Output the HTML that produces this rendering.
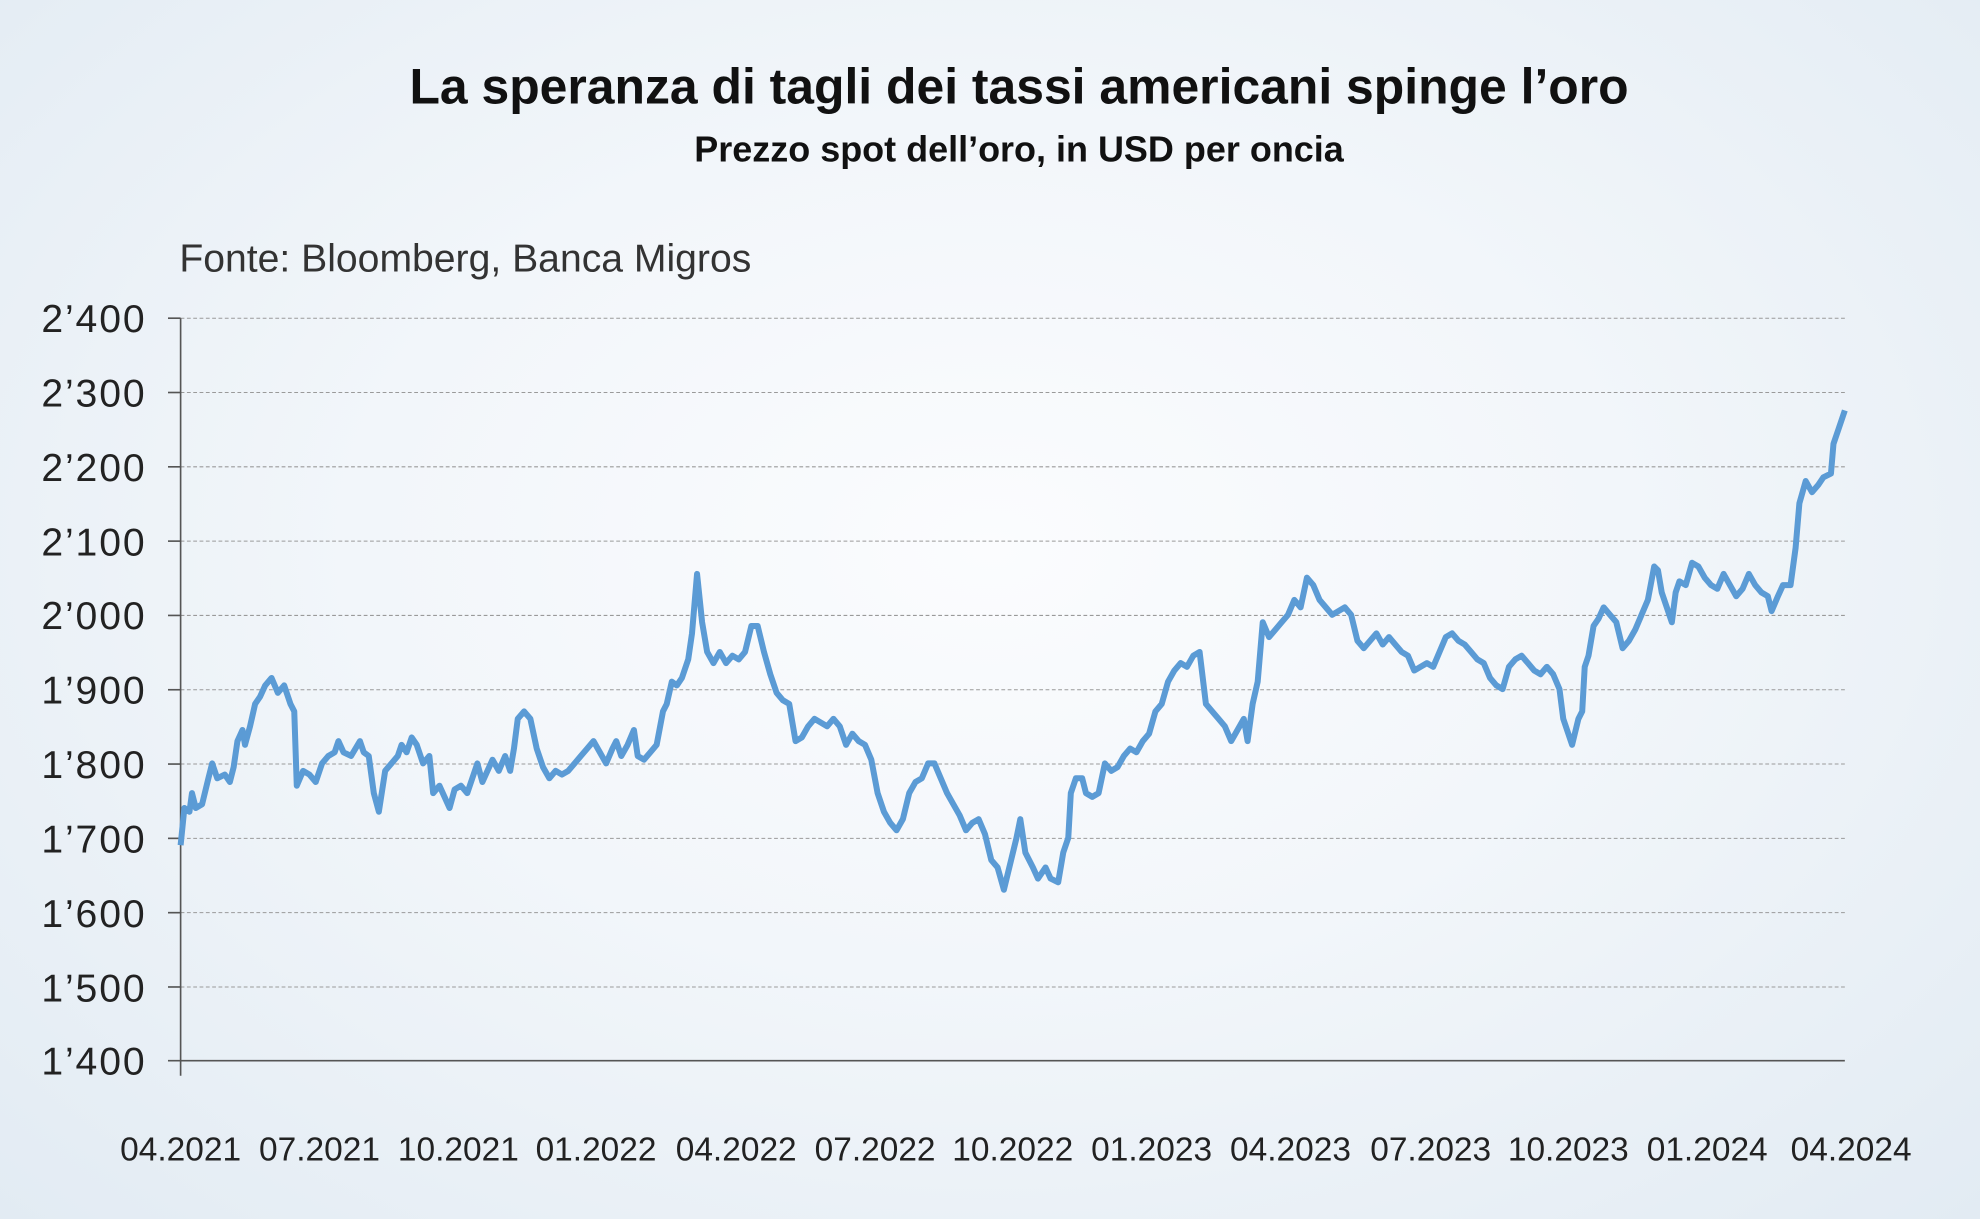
<!DOCTYPE html>
<html><head><meta charset="utf-8"><style>
html,body{margin:0;padding:0;width:1980px;height:1219px;overflow:hidden}
body{background:radial-gradient(ellipse at 50% 45%,#fbfcfe 0%,#f2f6fa 45%,#e2ebf3 100%)}
svg{display:block;font-family:"Liberation Sans",sans-serif}
</style></head><body>
<svg width="1980" height="1219" viewBox="0 0 1568 965.4">
<text x="807" y="82" text-anchor="middle" font-size="39.5" font-weight="bold" fill="#111">La speranza di tagli dei tassi americani spinge l’oro</text>
<text x="807" y="128" text-anchor="middle" font-size="28.5" font-weight="bold" fill="#111">Prezzo spot dell’oro, in USD per oncia</text>
<text x="142" y="215" font-size="31" fill="#333">Fonte: Bloomberg, Banca Migros</text>
<g stroke="#9a9a9a" stroke-width="0.8" stroke-dasharray="3,2">
<line x1="143" x2="1461" y1="252" y2="252"/><line x1="143" x2="1461" y1="310.85" y2="310.85"/>
<line x1="143" x2="1461" y1="369.7" y2="369.7"/><line x1="143" x2="1461" y1="428.55" y2="428.55"/>
<line x1="143" x2="1461" y1="487.4" y2="487.4"/><line x1="143" x2="1461" y1="546.25" y2="546.25"/>
<line x1="143" x2="1461" y1="605.1" y2="605.1"/><line x1="143" x2="1461" y1="663.95" y2="663.95"/>
<line x1="143" x2="1461" y1="722.8" y2="722.8"/><line x1="143" x2="1461" y1="781.65" y2="781.65"/>
</g>
<g stroke="#555" stroke-width="1.3">
<line x1="143" x2="143" y1="252" y2="852"/><line x1="133" x2="1461" y1="840" y2="840"/>
<line x1="133" x2="143" y1="252" y2="252"/><line x1="133" x2="143" y1="310.85" y2="310.85"/>
<line x1="133" x2="143" y1="369.7" y2="369.7"/><line x1="133" x2="143" y1="428.55" y2="428.55"/>
<line x1="133" x2="143" y1="487.4" y2="487.4"/><line x1="133" x2="143" y1="546.25" y2="546.25"/>
<line x1="133" x2="143" y1="605.1" y2="605.1"/><line x1="133" x2="143" y1="663.95" y2="663.95"/>
<line x1="133" x2="143" y1="722.8" y2="722.8"/><line x1="133" x2="143" y1="781.65" y2="781.65"/>
</g>
<g font-size="31" fill="#222" text-anchor="end" letter-spacing="1.5">
<text x="116" y="263">2’400</text><text x="116" y="322">2’300</text><text x="116" y="381">2’200</text>
<text x="116" y="440">2’100</text><text x="116" y="498">2’000</text><text x="116" y="557">1’900</text>
<text x="116" y="616">1’800</text><text x="116" y="675">1’700</text><text x="116" y="734">1’600</text>
<text x="116" y="793">1’500</text><text x="116" y="851">1’400</text>
</g>
<g font-size="26.5" fill="#222" text-anchor="middle">
<text x="143" y="919">04.2021</text><text x="253" y="919">07.2021</text><text x="363" y="919">10.2021</text>
<text x="472" y="919">01.2022</text><text x="583" y="919">04.2022</text><text x="693" y="919">07.2022</text>
<text x="802" y="919">10.2022</text><text x="912" y="919">01.2023</text><text x="1022" y="919">04.2023</text>
<text x="1133" y="919">07.2023</text><text x="1242" y="919">10.2023</text><text x="1352" y="919">01.2024</text>
<text x="1466" y="919">04.2024</text>
</g>
<g transform="translate(0,840) scale(1,-0.5885) translate(0,-1400)">
<polyline fill="none" stroke="#5b9bd5" stroke-width="6" vector-effect="non-scaling-stroke" stroke-linejoin="round" points="143,1690 146,1740 150,1735 152,1760 155,1740 160,1745 165,1780 168,1800 172,1780 178,1785 182,1775 185,1795 188,1830 192,1845 194,1825 198,1850 202,1880 206,1890 210,1905 215,1915 220,1895 225,1905 230,1880 233,1870 235,1770 240,1790 245,1785 250,1775 255,1800 260,1810 265,1815 268,1830 272,1815 278,1810 285,1830 288,1815 292,1810 296,1760 300,1735 305,1790 310,1800 315,1810 318,1825 322,1815 326,1835 330,1825 335,1800 340,1810 343,1760 348,1770 352,1755 356,1740 360,1765 365,1770 370,1760 374,1780 378,1800 382,1775 386,1790 390,1805 395,1790 400,1810 404,1790 407,1820 410,1860 415,1870 420,1860 425,1820 430,1795 435,1780 440,1790 445,1785 450,1790 455,1800 460,1810 465,1820 470,1830 475,1815 480,1800 485,1820 488,1830 492,1810 497,1825 502,1845 505,1810 510,1805 515,1815 520,1825 525,1870 528,1880 532,1910 536,1905 540,1915 545,1940 548,1975 552,2055 556,1990 560,1950 565,1935 570,1950 575,1935 580,1945 585,1940 590,1950 595,1985 600,1985 605,1950 610,1920 615,1895 620,1885 625,1880 630,1830 635,1835 640,1850 645,1860 650,1855 655,1850 660,1860 665,1850 670,1825 675,1840 680,1830 685,1825 690,1805 695,1760 700,1735 705,1720 710,1710 715,1725 720,1760 725,1775 730,1780 735,1800 740,1800 745,1780 750,1760 755,1745 760,1730 765,1710 770,1720 775,1725 780,1705 785,1670 790,1660 795,1630 800,1665 805,1700 808,1725 812,1680 818,1660 822,1645 828,1660 832,1645 838,1640 842,1680 846,1700 848,1760 852,1780 857,1780 860,1760 865,1755 870,1760 875,1800 880,1790 885,1795 890,1810 895,1820 900,1815 905,1830 910,1840 915,1870 920,1880 925,1910 930,1925 935,1935 940,1930 945,1945 950,1950 955,1880 960,1870 965,1860 970,1850 975,1830 980,1845 985,1860 988,1830 992,1880 996,1910 1000,1990 1005,1970 1010,1980 1015,1990 1020,2000 1025,2020 1030,2010 1035,2050 1040,2040 1045,2020 1050,2010 1055,2000 1060,2005 1065,2010 1070,2000 1075,1965 1080,1955 1085,1965 1090,1975 1095,1960 1100,1970 1105,1960 1110,1950 1115,1945 1120,1925 1125,1930 1130,1935 1135,1930 1140,1950 1145,1970 1150,1975 1155,1965 1160,1960 1165,1950 1170,1940 1175,1935 1180,1915 1185,1905 1190,1900 1195,1930 1200,1940 1205,1945 1210,1935 1215,1925 1220,1920 1225,1930 1230,1920 1235,1900 1238,1860 1242,1840 1245,1825 1250,1860 1253,1870 1255,1930 1258,1945 1262,1985 1266,1995 1270,2010 1275,2000 1280,1990 1285,1955 1290,1965 1295,1980 1300,2000 1305,2020 1310,2065 1313,2060 1316,2030 1320,2010 1324,1990 1327,2030 1330,2045 1335,2040 1340,2070 1345,2065 1350,2050 1355,2040 1360,2035 1365,2055 1370,2040 1375,2025 1380,2035 1385,2055 1390,2040 1395,2030 1400,2025 1403,2005 1408,2025 1412,2040 1418,2040 1422,2090 1425,2150 1430,2180 1435,2165 1440,2175 1444,2185 1450,2190 1452,2230 1456,2250 1461,2275"/>
</g>
</svg>
</body></html>
